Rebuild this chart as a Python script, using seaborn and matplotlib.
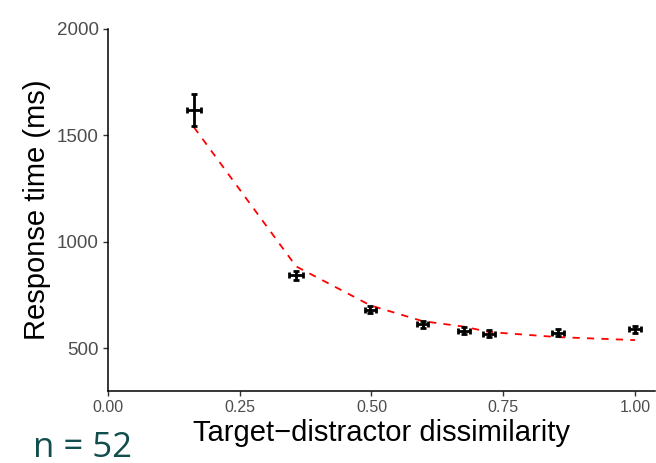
import matplotlib
matplotlib.use("Agg")
import matplotlib.pyplot as plt
import seaborn as sns
import pandas as pd

# Data
dissimilarity = [0.163, 0.357, 0.498, 0.597, 0.676, 0.723, 0.854, 1.000]
rt_mean = [1620, 843, 681, 614, 583, 569, 574, 589]
rt_err = [76, 21, 17, 17, 17, 17, 17, 17]
dis_err = [0.014, 0.013, 0.011, 0.011, 0.011, 0.011, 0.011, 0.011]
rt_fit = [1539, 885, 702, 628, 602, 577, 553, 539]
y_ticks = [500, 1000, 1500, 2000]
x_ticks = [0.00, 0.25, 0.50, 0.75, 1.00]
x_ticklabels = ["0.00", "0.25", "0.50", "0.75", "1.00"]

df = pd.DataFrame({"x": dissimilarity, "y": rt_mean, "yerr": rt_err,
                   "xerr": dis_err, "fit": rt_fit})

sns.set_style("ticks")
plt.rcParams["font.family"] = ["Liberation Sans", "DejaVu Sans"]

fig = plt.figure(figsize=(6.56, 4.63), dpi=100)
ax = fig.add_axes([0.1646, 0.1555, 0.8339, 0.7819])

sns.lineplot(data=df, x="x", y="fit", ax=ax, color="#ff0000",
             linewidth=1.3, linestyle=(0, (4, 4)), zorder=2)
ax.errorbar(df["x"], df["y"], yerr=df["yerr"], xerr=df["xerr"], fmt="none",
            ecolor="black", elinewidth=2.0, capsize=2.5, capthick=2.0, zorder=3)

ax.set_xlim(0, 1.038)
ax.set_ylim(300, 2000)
ax.set_xticks(x_ticks)
ax.set_xticklabels(x_ticklabels)
ax.set_yticks(y_ticks)

for s in ["top", "right"]:
    ax.spines[s].set_visible(False)
for s in ["left", "bottom"]:
    ax.spines[s].set_color("black")
    ax.spines[s].set_linewidth(1.1)

ax.tick_params(axis="x", labelsize=11.5, colors="#333333", labelcolor="#4d4d4d",
               length=3.5, width=1.0, pad=3)
ax.tick_params(axis="y", labelsize=13.5, colors="#333333", labelcolor="#4d4d4d",
               length=3.5, width=1.0, pad=3)

ax.set_xlabel("Target\u2212distractor dissimilarity", fontsize=21, color="black", labelpad=3)
ax.set_ylabel("Response time (ms)", fontsize=21, color="black", labelpad=4)

fig.text(0.05, 0.014, "n = 52", fontsize=25, color="#124e4e",
         family=["Open Sans", "DejaVu Sans"], ha="left", va="baseline")

fig.savefig("out.png", dpi=100)
